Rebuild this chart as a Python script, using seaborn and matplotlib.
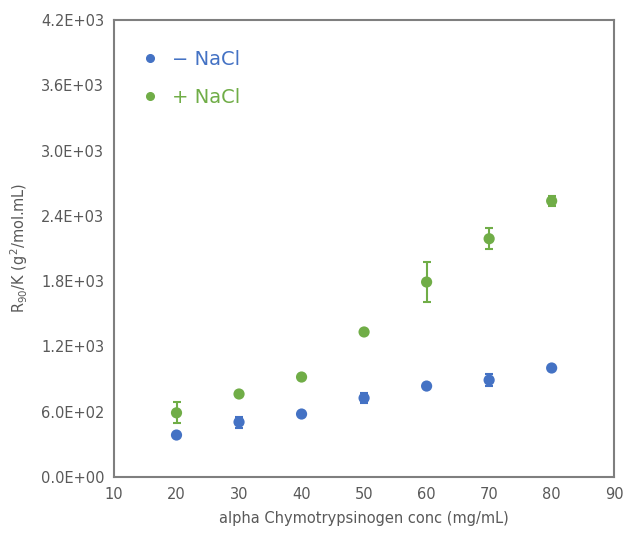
import matplotlib
matplotlib.use("Agg")
import matplotlib.pyplot as plt
import matplotlib.ticker as mticker
from matplotlib.lines import Line2D
import seaborn as sns
import pandas as pd

conc = [20, 30, 40, 50, 60, 70, 80]
minus_nacl = [386, 505, 579, 726, 836, 891, 1002]
minus_err = [15, 50, 15, 50, 15, 55, 15]
plus_nacl = [590, 763, 919, 1333, 1792, 2190, 2537]
plus_err = [95, 15, 15, 15, 184, 95, 45]
series_names = ["\u2212 NaCl", "+ NaCl"]
colors = ["#4472C4", "#70AD47"]
y_ticks = [0, 600, 1200, 1800, 2400, 3000, 3600, 4200]
x_ticks = [10, 20, 30, 40, 50, 60, 70, 80, 90]

df = pd.DataFrame({
    "conc": conc * 2,
    "R": minus_nacl + plus_nacl,
    "err": minus_err + plus_err,
    "series": [series_names[0]] * len(conc) + [series_names[1]] * len(conc),
})

sns.set_theme(style="white")
plt.rcParams["font.family"] = ["DejaVu Sans"]
gray = "#595959"

fig = plt.figure(figsize=(6.28, 5.33), dpi=100)
ax = fig.add_axes([0.1815, 0.105, 0.7965, 0.8575])

for name, col in zip(series_names, colors):
    sub = df[df["series"] == name]
    ax.errorbar(sub["conc"], sub["R"], yerr=sub["err"], fmt="none",
                ecolor=col, elinewidth=1.5, capsize=3, capthick=1.5, zorder=2)

sns.scatterplot(data=df, x="conc", y="R", hue="series", palette=colors,
                s=65, edgecolor="none", ax=ax, legend=False, zorder=3)

ax.set_xlim(10, 90)
ax.set_ylim(0, 4200)
ax.set_xticks(x_ticks)
ax.set_yticks(y_ticks)
ax.yaxis.set_major_formatter(mticker.FuncFormatter(lambda v, p: "%.1E" % v))
ax.tick_params(axis="both", length=0, labelsize=10.5, labelcolor=gray, pad=7)

for s in ax.spines.values():
    s.set_visible(True)
    s.set_color("#7f7f7f")
    s.set_linewidth(1.5)

ax.set_xlabel("alpha Chymotrypsinogen conc (mg/mL)", fontsize=10.5, color=gray, labelpad=7)
ax.set_ylabel("R$_{90}$/K (g$^2$/mol.mL)", fontsize=10.5, color=gray, labelpad=8)

handles = [Line2D([], [], marker="o", linestyle="none", color=c, markersize=5.5)
           for c in colors]
leg = ax.legend(handles, series_names, loc="upper left", frameon=False,
                fontsize=14, bbox_to_anchor=(0.014, 0.972), handlelength=1.2,
                handletextpad=0.5, labelspacing=0.95)
for t, c in zip(leg.get_texts(), colors):
    t.set_color(c)

fig.savefig("out.png", dpi=100)
